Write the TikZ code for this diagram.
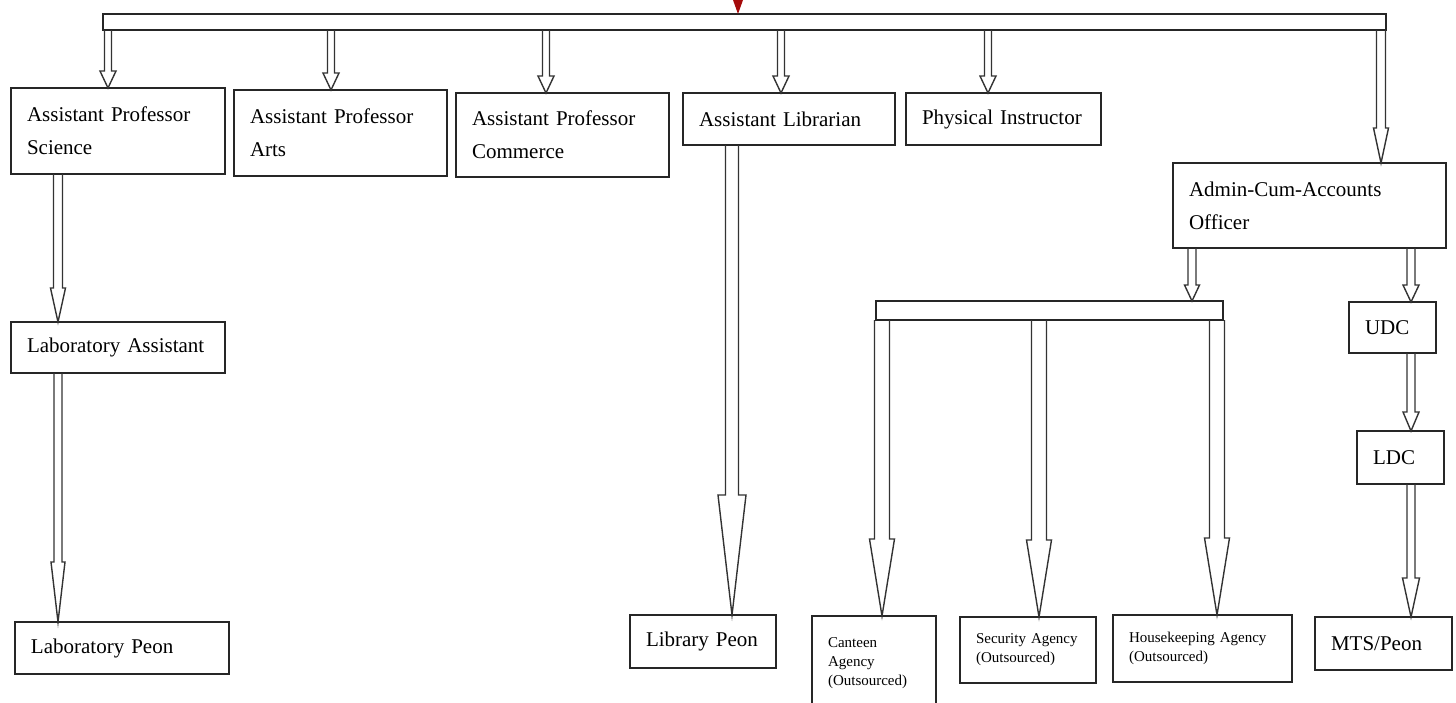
\documentclass[tikz,border=0pt]{standalone}
\usepackage{fontspec}
\setmainfont{Liberation Serif}
\usetikzlibrary{calc}
\definecolor{feedred}{RGB}{165,10,10}
\tikzset{
  orgbox/.style={draw=black!85, line width=0.9pt, anchor=north west, inner xsep=8pt, inner ysep=2pt, outer sep=0pt, align=left, font=\fontsize{10.5}{16.5}\selectfont},
  smallbox/.style={orgbox, font=\fontsize{7.5}{9.5}\selectfont},
  barbox/.style={draw=black!85, line width=0.9pt, anchor=north west, inner sep=0pt, outer sep=0pt},
  blockline/.style={draw=black!80, line width=0.7pt, line join=miter}
}
% x, from, to, half shaft, half head, head length
\newcommand{\blockarrow}[6]{%
  \draw[blockline] let \p1=(#2), \p2=(#3), \p3=(#1,0) in
    (\x3-#4,\y1) -- (\x3-#4,\y2-#6) -- (\x3-#5,\y2-#6) -- (\x3,\y2)
    -- (\x3+#5,\y2-#6) -- (\x3+#4,\y2-#6) -- (\x3+#4,\y1);
}
\begin{document}
\begin{tikzpicture}[x=0.5pt,y=0.5pt,yscale=-1,xscale=1]
\useasboundingbox (0,0) rectangle (1456,702);

%Shape: Bars
\node[barbox, minimum width=641.5pt, minimum height=8pt] (topbar) at (103,14) {};
\node[barbox, minimum width=173.5pt, minimum height=9.5pt] (subbar) at (876,301) {};

%Shape: Triangle
\coordinate (feed) at (738,0);
\fill[feedred] (feed) ++(-5,0) -- ++(10,0) -- (feed |- topbar.north) -- cycle;

% Text Node
\node[orgbox, text width=91pt, minimum height=43pt] (sci) at (11,88) {Assistant Professor\\Science};
% Text Node
\node[orgbox, text width=90.5pt, minimum height=43pt] (arts) at (234,90) {Assistant Professor\\Arts};
% Text Node
\node[orgbox, text width=90.5pt, minimum height=42pt] (comm) at (456,93) {Assistant Professor\\Commerce};
% Text Node
\node[orgbox, text width=90pt, minimum height=26pt] (lib) at (683,93) {Assistant Librarian};
% Text Node
\node[orgbox, text width=81.5pt, minimum height=26pt] (phys) at (906,93) {Physical Instructor};
% Text Node
\node[orgbox, text width=120.5pt, minimum height=42.5pt] (admin) at (1173,163) {Admin-Cum-Accounts\\Officer};
% Text Node
\node[orgbox, text width=27.5pt, minimum height=25.5pt] (udc) at (1349,302) {UDC};
% Text Node
\node[orgbox, text width=27.5pt, minimum height=26.5pt] (ldc) at (1357,431) {LDC};
% Text Node
\node[orgbox, text width=52.5pt, minimum height=26.5pt] (mts) at (1315,617) {MTS/Peon};
% Text Node
\node[orgbox, text width=91pt, minimum height=25.5pt] (labasst) at (11,322) {Laboratory Assistant};
% Text Node
\node[orgbox, text width=91pt, minimum height=26pt] (labpeon) at (15,622) {Laboratory Peon};
% Text Node
\node[orgbox, text width=57pt, minimum height=26.5pt] (libpeon) at (630,615) {Library Peon};
% Text Node
\node[smallbox, text width=46pt, minimum height=47pt] (canteen) at (812,616) {Canteen\\Agency\\(Outsourced)};
% Text Node
\node[smallbox, text width=52pt, minimum height=33pt] (security) at (960,617) {Security Agency\\(Outsourced)};
% Text Node
\node[smallbox, text width=73.5pt, minimum height=33.5pt] (house) at (1113,615) {Housekeeping Agency\\(Outsourced)};

%Block Arrows
\blockarrow{108}{topbar.south}{sci.north}{1.75pt}{4pt}{8.5pt}
\blockarrow{331}{topbar.south}{arts.north}{1.75pt}{4pt}{8.5pt}
\blockarrow{546}{topbar.south}{comm.north}{1.75pt}{4pt}{8.5pt}
\blockarrow{781}{topbar.south}{lib.north}{1.75pt}{4pt}{8.5pt}
\blockarrow{988}{topbar.south}{phys.north}{1.75pt}{4pt}{8.5pt}
\blockarrow{1381}{topbar.south}{admin.north}{2.25pt}{3.75pt}{17.5pt}
\blockarrow{58}{sci.south}{labasst.north}{2.25pt}{3.75pt}{17pt}
\blockarrow{58}{labasst.south}{labpeon.north}{2pt}{3.5pt}{30pt}
\blockarrow{732}{lib.south}{libpeon.north}{3.25pt}{7pt}{60pt}
\blockarrow{1192}{admin.south}{subbar.north}{2pt}{3.75pt}{8pt}
\blockarrow{1411}{admin.south}{udc.north}{2pt}{4pt}{8.5pt}
\blockarrow{1411}{udc.south}{ldc.north}{2pt}{4pt}{9.5pt}
\blockarrow{1411}{ldc.south}{mts.north}{2pt}{4.25pt}{19.5pt}
\blockarrow{882}{subbar.south}{canteen.north}{3.75pt}{6.25pt}{38.5pt}
\blockarrow{1039}{subbar.south}{security.north}{3.75pt}{6.25pt}{38.5pt}
\blockarrow{1217}{subbar.south}{house.north}{3.75pt}{6.25pt}{38.5pt}
\end{tikzpicture}
\end{document}
